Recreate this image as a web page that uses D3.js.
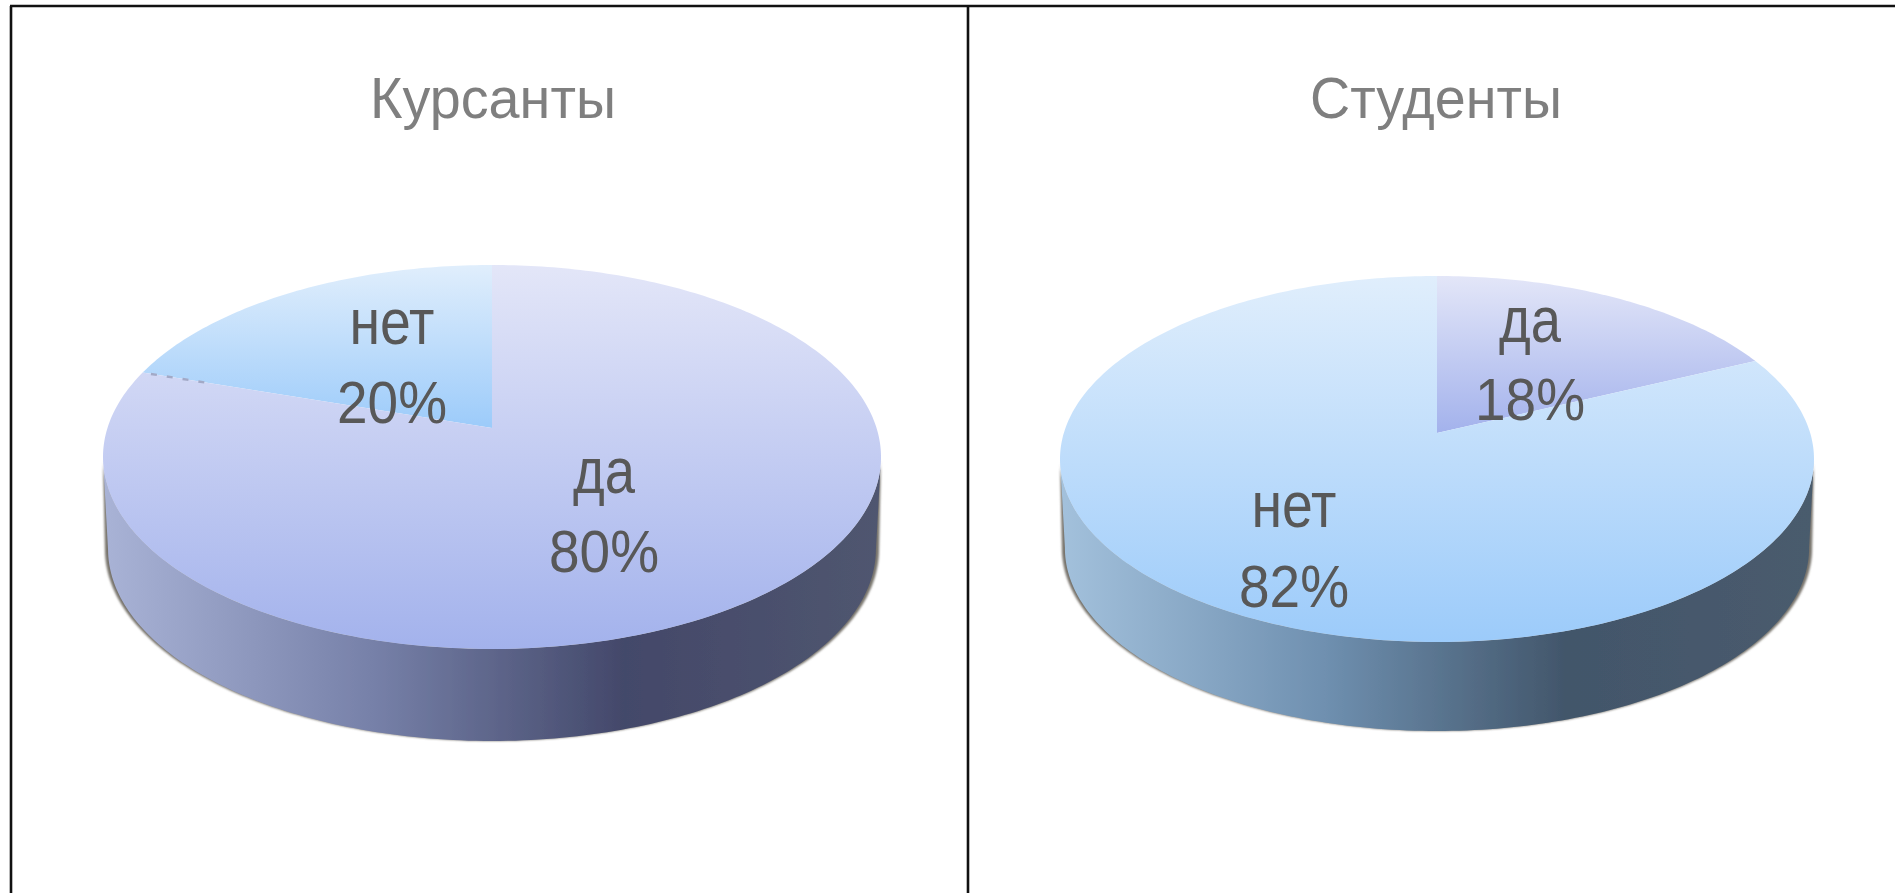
<!DOCTYPE html>
<html><head><meta charset="utf-8">
<script src="https://cdnjs.cloudflare.com/ajax/libs/d3/7.8.5/d3.min.js"></script>
<style>html,body{margin:0;background:#fff;overflow:hidden}svg{display:block}text{font-family:"Liberation Sans","Open Sans",sans-serif}</style>
</head><body><svg id="c" width="1895" height="893"></svg>
<script>
const titles = ["Курсанты", "Студенты"];
const categoriesLeft = ["нет", "да"];
const valuesLeft = [20, 80];
const categoriesRight = ["да", "нет"];
const valuesRight = [18, 82];

const palette = {
  "да":  {top:"#e3e6f8", bottom:"#a3b2ec"},
  "нет": {top:"#e0eefc", bottom:"#9ccbfa"}
};
const sideStops = [
  [["0%","#a9b3d6"],["35%","#7680a8"],["67%","#43486a"],["100%","#50566f"]],
  [["0%","#a3c1dc"],["35%","#6f90b0"],["67%","#42566b"],["100%","#4a5b6d"]]
];
const labelWidth = {"нет":85, "да":62};
// geometry of each drawn disc
const discs = [
  {x0:103,x1:881,top:265,bottom:649,apex:428,depth:92,titleX:493,titleW:246,dir:-1,
   cats:categoriesLeft,vals:valuesLeft,leader:true,
   labels:{"нет":[392,344,423],"да":[604,493,572]}},
  {x0:1060,x1:1814,top:276,bottom:642,apex:433,depth:89,titleX:1436,titleW:252,dir:1,
   cats:categoriesRight,vals:valuesRight,leader:false,
   labels:{"да":[1530,342,420],"нет":[1294,527,607]}}
];

const svg = d3.select("#c");
const defs = svg.append("defs");
defs.append("filter").attr("id","soft").append("feGaussianBlur").attr("stdDeviation",0.7);
defs.append("filter").attr("id","softer").attr("x","-5%").attr("y","-5%").attr("width","110%").attr("height","110%")
  .append("feGaussianBlur").attr("stdDeviation",1.2);
defs.append("filter").attr("id","txt").append("feGaussianBlur").attr("stdDeviation",0.5);

discs.forEach((d,i)=>{
  const g = svg.append("g");
  const cx=(d.x0+d.x1)/2, A=(d.x1-d.x0)/2;
  const up=d.apex-d.top, dn=d.bottom-d.apex;
  const k=(dn-up)/(dn+up), T=up*(1+k), S=A*Math.sqrt(1-k*k);
  const project=(r,a)=>{ // a: clockwise from far point of the disc
    const u=r*Math.sin(a), v=r*Math.cos(a), w=1+k*v;
    return [cx+S*u/w, d.apex-T*v/w];
  };
  const line=d3.line();
  // side wall: the front half of the rim, pushed down by depth
  const rim=d3.range(0,361).map(t=>project(1,t*Math.PI/180));
  const widest=rim.reduce((m,p,q)=>p[0]>rim[m][0]?q:m,0);
  const leftmost=rim.reduce((m,p,q)=>p[0]<rim[m][0]?q:m,0);
  const front=d3.range(widest,leftmost+1).map(t=>rim[t]);
  const lowered=s=>front.map(p=>[cx+(p[0]-cx)*s,p[1]+d.depth]).reverse();
  const sideId="side"+i;
  const sg=defs.append("linearGradient").attr("id",sideId).attr("gradientUnits","userSpaceOnUse")
     .attr("x1",d.x0).attr("x2",d.x1).attr("y1",0).attr("y2",0);
  sideStops[i].forEach(s=>sg.append("stop").attr("offset",s[0]).attr("stop-color",s[1]));
  g.append("path").attr("d",line(front.concat(lowered(0.995)))+"Z").attr("fill","#77736c").attr("filter","url(#softer)");
  g.append("path").attr("d",line(front.concat(lowered(0.987)))+"Z").attr("fill",`url(#${sideId})`).attr("filter","url(#soft)");

  // top surface, from d3.pie
  const rows=d.cats.map((c,j)=>({c,v:d.vals[j]}));
  const arcs=d3.pie().sort(null).value(e=>e.v)(rows);
  const top=g.append("g").attr("filter","url(#soft)");
  arcs.forEach((a,j)=>{
    // left disc runs anticlockwise from the far point, right disc clockwise
    const s=d.dir*a.startAngle, e=d.dir*a.endAngle;
    const n=Math.max(8,Math.round(Math.abs(e-s)*60));
    const pts=[project(0,0)].concat(d3.range(n+1).map(q=>project(1,s+(e-s)*q/n)));
    const id=`top${i}-${j}`;
    const lg=defs.append("linearGradient").attr("id",id).attr("x1",0).attr("x2",0).attr("y1",0).attr("y2",1);
    lg.append("stop").attr("offset","0%").attr("stop-color",palette[a.data.c].top);
    lg.append("stop").attr("offset","100%").attr("stop-color",palette[a.data.c].bottom);
    top.append("path").attr("d",line(pts)+"Z").attr("fill",`url(#${id})`);
    a.edge=d.dir*a.endAngle;
  });
  if(d.leader){
    const a0=arcs[0].edge;
    g.append("path").attr("d",line([project(0.975,a0),project(0.8,a0)]))
     .attr("stroke","#a2a9c6").attr("stroke-width",2.5).attr("fill","none")
     .attr("stroke-dasharray","6 10");
  }
  // text
  g.append("text").text(titles[i]).attr("x",d.titleX).attr("y",118).attr("text-anchor","middle")
   .attr("font-size",57).attr("fill","#7f7f7f").attr("textLength",d.titleW).attr("lengthAdjust","spacingAndGlyphs").attr("filter","url(#txt)");
  arcs.forEach(a=>{
    const L=d.labels[a.data.c];
    g.append("text").text(a.data.c).attr("x",L[0]).attr("y",L[1]).attr("text-anchor","middle")
      .attr("font-size",65).attr("fill","#595959").attr("textLength",labelWidth[a.data.c]).attr("lengthAdjust","spacingAndGlyphs").attr("filter","url(#txt)");
    g.append("text").text(a.data.v+"%").attr("x",L[0]).attr("y",L[2]).attr("text-anchor","middle")
      .attr("font-size",60).attr("fill","#595959").attr("textLength",110).attr("lengthAdjust","spacingAndGlyphs").attr("filter","url(#txt)");
  });
});
// frame
const frame=[[11,893,11,6],[10,6,1895,6],[968,6,968,893]];
svg.append("g").selectAll("line").data(frame).join("line")
  .attr("x1",f=>f[0]).attr("y1",f=>f[1]).attr("x2",f=>f[2]).attr("y2",f=>f[3])
  .attr("stroke","#111").attr("stroke-width",2.6);
</script></body></html>
